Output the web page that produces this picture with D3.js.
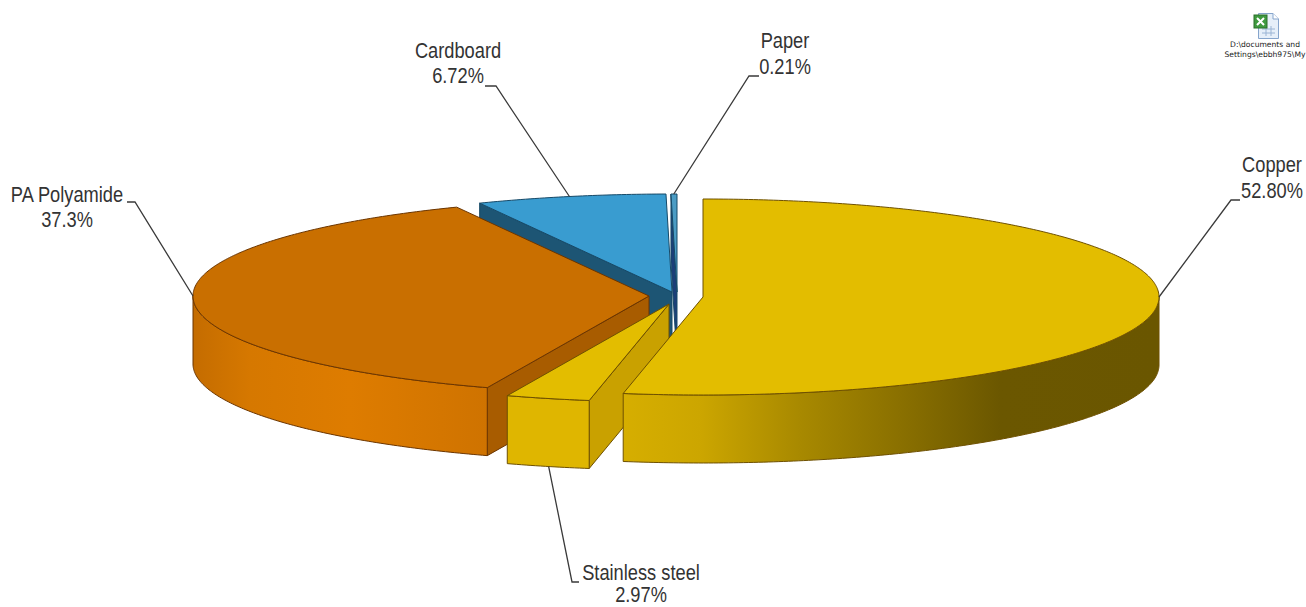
<!DOCTYPE html>
<html>
<head>
<meta charset="utf-8">
<script src="https://cdn.jsdelivr.net/npm/d3@7"></script>
<style>
  html, body { margin: 0; padding: 0; background: #fff; overflow: hidden; }
  svg { display: block; }
  .lbl { font-family: "Liberation Sans", Arial, sans-serif; font-size: 22px; fill: #333; text-anchor: middle; }
  .icon-lbl { font-family: "DejaVu Sans", sans-serif; font-size: 7.6px; fill: #222; text-anchor: middle; }
</style>
</head>
<body>
<div id="chart"></div>
<script>
// data, clockwise from 12 o'clock
var materials = ["Copper", "Stainless steel", "PA Polyamide", "Cardboard", "Paper"];
var shares = [52.80, 2.97, 37.3, 6.72, 0.21];
var shareLabels = ["52.80%", "2.97%", "37.3%", "6.72%", "0.21%"];

var topColors = ["#e3bd00", "#e3bd00", "#c96f00", "#399cd0", "#4b9cc4"];
var cutColors = ["#c9a100", "#c9a100", "#a85c00", "#1d5574", "#1c3f78"];
var edgeColors = ["#6e5000", "#6e5000", "#6b3500", "#174a68", "#174a68"];

var width = 1306, height = 607
  , rx = 456, ry = 98, depth = 68
  ;

// where each exploded slice has its tip on the page
var tips = {
  "Copper": [703, 297],
  "Stainless steel": [669, 304],
  "PA Polyamide": [649, 296],
  "Cardboard": [672, 292],
  "Paper": [677, 292]
};

// label centre, baselines, leader elbow
var labelSpots = {
  "Copper": { x: 1272, y: [172, 198], rimDeg: 90, drop: 0, elbow: [[1231, 200], [1240, 200]] },
  "Stainless steel": { x: 641, y: [580, 602], rimDeg: 195.3, drop: depth, elbow: [[572, 582], [579, 582]] },
  "PA Polyamide": { x: 67, y: [202, 227], rimDeg: 270, drop: 0, elbow: [[135, 202], [127, 202]] },
  "Cardboard": { x: 458, y: [58, 83], rimDeg: 347, drop: 0, elbow: [[496, 86], [485, 86]] },
  "Paper": { x: 785, y: [48, 74], rimDeg: 359.6, drop: 0, elbow: [[749, 76], [759, 76]] }
};

var drawOrder = ["Cardboard", "Paper", "PA Polyamide", "Stainless steel", "Copper"];

var svg = d3.select("#chart").append("svg")
  .attr("width", width)
  .attr("height", height);

var defs = svg.append("defs");

function sideGradient(id, stops) {
  var g = defs.append("linearGradient")
    .attr("id", id)
    .attr("gradientUnits", "userSpaceOnUse")
    .attr("x1", 0).attr("x2", width).attr("y1", 0).attr("y2", 0);
  stops.forEach(function (s) {
    g.append("stop").attr("offset", s[0] / width).attr("stop-color", s[1]);
  });
  return "url(#" + id + ")";
}

var sideFills = {
  "Copper": sideGradient("copperSide", [[623, "#d6ae00"], [700, "#ccA600"], [800, "#a88900"], [900, "#8a7000"], [1000, "#6b5700"], [1159, "#6a5600"]]),
  "Stainless steel": "#dfb600",
  "PA Polyamide": sideGradient("paSide", [[192, "#c46c00"], [250, "#d67800"], [350, "#de7c00"], [487, "#cf7300"]])
};

var pie = d3.pie().sort(null).startAngle(0).endAngle(2 * Math.PI);
var slices = pie(shares);

var lineGen = d3.line();

function rimPoint(tip, a, drop) {
  return [tip[0] + rx * Math.sin(a), tip[1] - ry * Math.cos(a) + (drop || 0)];
}

function rimPoints(tip, a0, a1, drop) {
  var n = Math.max(2, Math.ceil((a1 - a0) * 90));
  return d3.range(n + 1).map(function (i) {
    return rimPoint(tip, a0 + (a1 - a0) * i / n, drop);
  });
}

function cutFace(tip, a) {
  var r = rimPoint(tip, a);
  return [tip, r, [r[0], r[1] + depth], [tip[0], tip[1] + depth]];
}

function face(g, pts, fill, edge) {
  g.append("path")
    .attr("d", lineGen(pts) + "Z")
    .attr("fill", fill)
    .attr("stroke", edge)
    .attr("stroke-width", 1)
    .attr("stroke-linejoin", "round");
}

drawOrder.forEach(function (name) {
  var i = materials.indexOf(name)
    , d = slices[i]
    , tip = tips[name]
    , g = svg.append("g").attr("class", "slice")
    ;

  // cut walls that turn towards the viewer
  if (Math.sin(d.startAngle) < -1e-6) face(g, cutFace(tip, d.startAngle), cutColors[i], edgeColors[i]);
  if (Math.sin(d.endAngle) > 1e-6) face(g, cutFace(tip, d.endAngle), cutColors[i], edgeColors[i]);

  // outer wall, front half only
  var a0 = Math.max(d.startAngle, Math.PI / 2)
    , a1 = Math.min(d.endAngle, 3 * Math.PI / 2)
    ;
  if (a1 > a0) {
    var upper = rimPoints(tip, a0, a1)
      , lower = rimPoints(tip, a0, a1, depth).reverse()
      ;
    face(g, upper.concat(lower), sideFills[name], edgeColors[i]);
  }

  // lid
  face(g, [tip].concat(rimPoints(tip, d.startAngle, d.endAngle)), topColors[i], edgeColors[i]);
});

// labels and leaders
materials.forEach(function (name, i) {
  var spot = labelSpots[name]
    , start = rimPoint(tips[name], spot.rimDeg * Math.PI / 180, spot.drop)
    ;

  svg.append("path")
    .attr("d", lineGen([start].concat(spot.elbow)))
    .attr("fill", "none")
    .attr("stroke", "#3a3a3a")
    .attr("stroke-width", 1.3);

  [name, shareLabels[i]].forEach(function (line, k) {
    svg.append("text")
      .attr("class", "lbl")
      .attr("transform", "translate(" + spot.x + "," + spot.y[k] + ") scale(0.83,1)")
      .text(line);
  });
});

// embedded spreadsheet icon in the corner
var icon = svg.append("g").attr("class", "icon");
icon.append("path")
  .attr("d", "M1258.5,13.5H1273L1278.5,19V38.5H1258.5Z")
  .attr("fill", "#e6eff9")
  .attr("stroke", "#86a5cc");
icon.append("path")
  .attr("d", "M1273,13.5V19H1278.5")
  .attr("fill", "#fff")
  .attr("stroke", "#86a5cc");
icon.append("path")
  .attr("d", "M1262,29H1275M1262,33H1275M1266,26V36M1271,26V36")
  .attr("fill", "none")
  .attr("stroke", "#9ab4d4");
icon.append("rect")
  .attr("x", 1254).attr("y", 15).attr("width", 13).attr("height", 13)
  .attr("fill", "#3f9a3f").attr("stroke", "#2a6e2a");
icon.append("path")
  .attr("d", "M1257,18L1264,25M1264,18L1257,25")
  .attr("stroke", "#fff").attr("stroke-width", 2);
icon.append("text").attr("class", "icon-lbl").attr("x", 1265).attr("y", 47).text("D:\\documents and");
icon.append("text").attr("class", "icon-lbl").attr("x", 1265).attr("y", 57).text("Settings\\ebbh975\\My");
</script>
</body>
</html>
